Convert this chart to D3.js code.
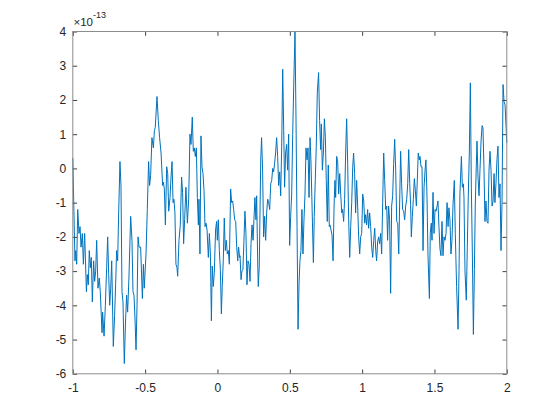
<!DOCTYPE html>
<html lang="en">
  <head>
    <meta charset="utf-8">
    <script src="https://d3js.org/d3.v7.min.js"></script>
    <style>
      body {margin: 0; background: white;}
      text {font-family: "Liberation Sans", Arial, sans-serif; fill: #262626;}
      .box {fill: none; stroke: #8c8c8c; stroke-width: 1;}
      .axis path {display: none;}
      .axis line {stroke: #404040; stroke-width: 1;}
    </style>
  </head>
  <body>
    <script type="text/javascript">
      // tick labels
      const xTicks = [-1, -0.5, 0, 0.5, 1, 1.5, 2];
      const yTicks = [-6, -5, -4, -3, -2, -1, 0, 1, 2, 3, 4];
      const yExponent = -13;

      // signal, x values and y values (in units of 1e-13)
      const xValues = [
        -1.000, -0.985, -0.980, -0.973, -0.966, -0.957, -0.950, -0.943, -0.934, -0.927,
        -0.918, -0.906, -0.900, -0.893, -0.886, -0.879, -0.872, -0.865, -0.856, -0.849,
        -0.842, -0.835, -0.826, -0.817, -0.810, -0.798, -0.794, -0.784, -0.775, -0.766,
        -0.759, -0.752, -0.745, -0.738, -0.731, -0.720, -0.711, -0.704, -0.697, -0.690,
        -0.683, -0.674, -0.667, -0.660, -0.653, -0.644, -0.635, -0.628, -0.621, -0.612,
        -0.600, -0.591, -0.584, -0.577, -0.570, -0.563, -0.556, -0.549, -0.542, -0.531,
        -0.519, -0.512, -0.506, -0.494, -0.485, -0.476, -0.469, -0.462, -0.453, -0.443,
        -0.436, -0.430, -0.418, -0.409, -0.400,
        -0.390, -0.379, -0.374, -0.367, -0.360, -0.351, -0.344, -0.337, -0.328, -0.321,
        -0.314, -0.307, -0.301, -0.294, -0.287, -0.280, -0.275, -0.266, -0.257, -0.248,
        -0.241, -0.234, -0.227, -0.218, -0.208, -0.199, -0.190, -0.183, -0.174, -0.167,
        -0.160, -0.153, -0.146, -0.139, -0.132, -0.128, -0.121, -0.114, -0.107, -0.100,
        -0.093, -0.086, -0.079, -0.072, -0.063, -0.056, -0.049, -0.042, -0.036, -0.029,
        -0.022, -0.013, -0.006, -0.001, 0.006, 0.013, 0.020, 0.027, 0.033, 0.040,
        0.047, 0.054, 0.061, 0.068, 0.075, 0.082, 0.091, 0.098, 0.105, 0.112,
        0.119, 0.126, 0.133, 0.140, 0.146, 0.153,
        0.156, 0.163, 0.169, 0.176, 0.183, 0.190, 0.197, 0.204, 0.211, 0.218,
        0.225, 0.232, 0.239, 0.246, 0.252, 0.259, 0.266, 0.271, 0.278, 0.282,
        0.289, 0.299, 0.305, 0.312, 0.319, 0.326, 0.333, 0.340, 0.347, 0.354,
        0.361, 0.368, 0.375, 0.382, 0.388, 0.395, 0.402, 0.409, 0.416, 0.423,
        0.430, 0.437, 0.444, 0.451, 0.458, 0.464, 0.471, 0.478, 0.485, 0.492,
        0.499, 0.506, 0.513, 0.520, 0.527, 0.536, 0.543, 0.550, 0.557, 0.564,
        0.570, 0.577, 0.584, 0.591, 0.598, 0.605, 0.612, 0.619, 0.626, 0.633,
        0.640, 0.646, 0.653, 0.663, 0.669, 0.676, 0.683, 0.690, 0.699, 0.706,
        0.713, 0.718, 0.725, 0.732, 0.739, 0.746, 0.752, 0.759, 0.766, 0.773,
        0.778, 0.785, 0.792, 0.799, 0.806, 0.812, 0.817, 0.824, 0.831, 0.838,
        0.845, 0.852, 0.859, 0.865, 0.872, 0.879, 0.886, 0.893, 0.900, 0.907,
        0.914, 0.921, 0.928, 0.935, 0.941, 0.948, 0.955, 0.962, 0.969, 0.976,
        0.983, 0.990, 0.997, 1.004, 1.011, 1.018, 1.024, 1.031, 1.038, 1.045,
        1.052, 1.059, 1.066, 1.073, 1.080, 1.087, 1.094, 1.100, 1.107, 1.114,
        1.121, 1.128, 1.135, 1.142, 1.149, 1.156, 1.163, 1.170, 1.176, 1.183,
        1.190, 1.197, 1.204, 1.211, 1.218, 1.225, 1.232, 1.239, 1.246, 1.253,
        1.259, 1.266, 1.273, 1.280, 1.287, 1.294, 1.301, 1.308, 1.315, 1.322,
        1.329, 1.335, 1.340, 1.347, 1.354, 1.361, 1.368, 1.375, 1.382, 1.388,
        1.395,
        1.400, 1.407, 1.414, 1.421, 1.428, 1.435, 1.441, 1.448, 1.455, 1.465,
        1.471, 1.478, 1.483, 1.490, 1.497, 1.504, 1.511, 1.518, 1.524, 1.531,
        1.538, 1.545, 1.552, 1.559, 1.566, 1.573, 1.580, 1.587, 1.594, 1.600,
        1.607, 1.614, 1.621, 1.628, 1.637, 1.644, 1.653, 1.663, 1.670, 1.676,
        1.686, 1.693, 1.700, 1.704, 1.711, 1.720, 1.727, 1.734, 1.741, 1.748,
        1.755, 1.762, 1.769, 1.776, 1.782, 1.789, 1.794, 1.801, 1.808, 1.815,
        1.822, 1.829, 1.835, 1.842, 1.849, 1.856, 1.863, 1.870, 1.877, 1.884,
        1.891, 1.898, 1.905, 1.912, 1.918, 1.925, 1.932, 1.939, 1.946, 1.953,
        1.960, 1.967, 1.974, 1.981, 1.988, 1.994, 2.000
      ];
      const yValues = [
        0.3, -2.7, -2.4, -2.8, -1.2, -1.9, -1.7, -2.3, -1.9, -2.8,
        -1.9, -3.6, -3.1, -3.4, -2.4, -2.9, -2.6, -3.9, -2.7, -3.3,
        -3.0, -2.1, -3.5, -3.2, -3.6, -4.8, -4.2, -4.9, -4.0, -2.9,
        -2.0, -3.1, -4.0, -3.5, -2.7, -5.2, -4.3, -3.4, -2.4, -2.7,
        -1.3, 0.2, -0.5, -3.6, -3.9, -5.7, -4.4, -3.7, -4.2, -3.2,
        -1.4, -2.1, -3.6, -3.7, -4.4, -5.3, -4.0, -2.0, -2.3, -2.3,
        -3.8, -2.8, -3.5, -2.5, -1.2, 0.2, -0.5, -0.2, 0.9, 0.6,
        1.1, 1.2, 2.1, 1.4, 0.9,
        0.45, -0.5, -0.4, -0.6, -1.65, 0.05, -0.15, -1.25, -0.85, -0.25,
        0.2, -1.0, -0.9, -1.3, -2.8, -2.9, -3.15, -2.1, -1.65, -0.25,
        -0.7, -2.2, -1.5, -0.55, -1.6, -0.9, 1.0, 0.7, 1.5, 0.5,
        0.6, 0.35, 0.6, -0.85, -1.65, -0.9, -2.5, 0.95, 0.05, -0.15,
        -0.65, -1.7, -1.6, -1.8, -2.6, -1.9, -2.5, -4.45, -2.85, -3.45,
        -3.05, -1.8, -1.55, -2.1, -1.5, -2.4, -2.95, -4.25, -3.45, -2.7,
        -1.45, -2.4, -2.1, -2.5, -2.4, -2.8, -0.6, -1.0, -0.95, -1.2,
        -1.5, -1.55, -2.3, -2.7, -2.3, -2.6,
        -2.55, -3.25, -3.0, -2.95, -2.1, -1.25, -1.9, -3.4, -2.7, -2.8,
        -3.3, -2.2, -1.65, -2.1, -1.5, -0.85, -1.5, -0.8, -2.7, -3.45,
        -2.85, 0.25, 0.9, -0.05, -2.0, -1.4, -2.1, -1.3, -0.9, -1.0,
        -1.2, -0.45, -0.35, 0.0, -0.1, 0.15, 0.45, 0.9, 0.35, -0.5,
        -0.1, -0.8, 0.65, 2.9, 1.1, -0.55, 0.45, 0.7, -0.05, 1.0,
        -2.25, -1.4, -0.75, 1.0, 2.4, 4.0, 1.4, -1.7, -4.7, -3.35,
        -2.7, -2.4, -1.2, -2.5, -1.5, -0.75, 0.6, 0.25, 0.6, -0.85,
        0.9, 0.25, -0.95, -2.75, -1.4, -0.35, 0.65, 2.2, 2.8, 1.4,
        0.55, 1.3, -0.05, 0.45, 1.45, 0.9, -0.35, -1.55, 0.1, -1.7,
        -1.65, -1.8, -1.95, -2.7, -1.1, -0.35, -0.85, 0.35, 0.2, -0.75,
        -0.15, -0.75, -1.3, -1.2, -1.55, -0.9, 0.45, 1.45, 0.15, -1.5,
        -2.6, -1.7, -1.0, 0.05, 0.45, -0.15, -1.3, -0.35, -1.1, -2.0,
        -2.5, -2.0, -1.9, -0.75, -0.95, -1.6, -1.35, -1.65, -1.2, -1.75,
        -1.3, -1.7, -2.3, -2.6, -2.1, -1.75, -2.4, -2.7, -2.15, -2.0,
        -2.2, -1.9, -2.5, -1.0, 0.45, -0.35, -1.2, -1.1, -2.1, -1.1,
        -1.5, -3.65, -1.1, -0.8, 0.15, 0.85, -0.05, -1.55, -1.6, -2.5,
        -1.1, 0.5, -0.45, -1.2, -1.25, -1.5, -1.1, -0.9, -0.45, 0.55,
        -0.45, -1.05, -2.0, -1.4, -0.9, -0.3, -0.65, -1.1, -0.25, 0.45,
        0.25,
        0.35, 0.05, 0.05, -2.4, -0.55, -0.05, 0.25, -0.75, -2.5, -3.8,
        -1.9, -1.6, -2.1, -0.7, -1.9, -1.2, -1.25, -1.1, -0.95, -1.7,
        -2.35, -2.55, -1.55, -2.55, -2.0, -2.1, -1.9, -1.0, -1.7, -1.15,
        -1.5, -2.5, -2.1, -1.1, -0.35, -1.9, -3.45, -4.7, -2.95, -0.75,
        0.35, -0.55, -0.45, -0.85, -3.0, -3.85, -2.3, -0.75, 0.45, 2.5,
        -0.55, -2.5, -4.85, -2.95, -1.1, 0.05, 0.8, -0.25, -0.8, 0.0,
        0.8, 1.25, 1.2, 0.05, -1.55, -0.95, -1.55, -1.6, -0.05, 0.5,
        -0.05, -1.1, -0.95, -0.15, -1.0, -0.45, 0.25, 0.65, -0.85, -0.45,
        -2.4, -1.0, 2.45, 1.95, 1.85, 1.3, 0.75
      ];

      // figure size and axes position
      const w = 560;
      const h = 420;
      const marginLeft = 72.8;
      const marginTop = 31.5;
      const plotW = 434;
      const plotH = 342.3;
      const tickLen = 4.3;

      var svg = d3.select("body")
            .append("svg")
            .attr("width", w)
            .attr("height", h);

      var g = svg.append("g")
            .attr("transform", "translate(" + marginLeft + "," + marginTop + ")");

      // scales
      var xScale = d3.scaleLinear()
                .domain([-1, 2])
                .range([0, plotW]);
      var yScale = d3.scaleLinear()
                .domain([-6, 4])
                .range([plotH, 0]);

      // the signal
      var points = xValues.map(function(x, i) { return [x, yValues[i]]; });
      var line = d3.line()
            .x(function(d) { return xScale(d[0]); })
            .y(function(d) { return yScale(d[1]); });
      g.append("path")
          .datum(points)
          .attr("d", line)
          .attr("fill", "none")
          .attr("stroke", "#0072BD")
          .attr("stroke-width", 1)
          .attr("stroke-linejoin", "round");

      // plain hyphen minus like matlab
      function fmt(d) { return String(d); }

      // axes, ticks pointing inwards on all four sides
      g.append("g")
          .attr("class", "axis")
          .attr("transform", "translate(0," + plotH + ")")
          .call(d3.axisBottom(xScale).tickValues(xTicks)
            .tickSizeInner(-tickLen).tickSizeOuter(0).tickPadding(9.5)
            .tickFormat(fmt))
          .selectAll("text")
          .style("font-size", "12px");
      g.append("g")
          .attr("class", "axis")
          .call(d3.axisTop(xScale).tickValues(xTicks)
            .tickSizeInner(-tickLen).tickSizeOuter(0).tickFormat(""));
      g.append("g")
          .attr("class", "axis")
          .call(d3.axisLeft(yScale).tickValues(yTicks)
            .tickSizeInner(-tickLen).tickSizeOuter(0).tickPadding(6.5)
            .tickFormat(fmt))
          .selectAll("text")
          .style("font-size", "12px");
      g.append("g")
          .attr("class", "axis")
          .attr("transform", "translate(" + plotW + ",0)")
          .call(d3.axisRight(yScale).tickValues(yTicks)
            .tickSizeInner(-tickLen).tickSizeOuter(0).tickFormat(""));

      // box around the axes
      g.append("rect")
          .attr("class", "box")
          .attr("x", 0)
          .attr("y", 0)
          .attr("width", plotW)
          .attr("height", plotH);

      // exponent label
      var expLabel = svg.append("text")
            .attr("x", marginLeft + 0.7)
            .attr("y", 25.5)
            .style("font-size", "11.5px");
      expLabel.append("tspan").text("\u00d710");
      expLabel.append("tspan")
          .attr("dy", -7.5)
          .style("font-size", "9px")
          .text(String(yExponent));
    </script>
  </body>
</html>
